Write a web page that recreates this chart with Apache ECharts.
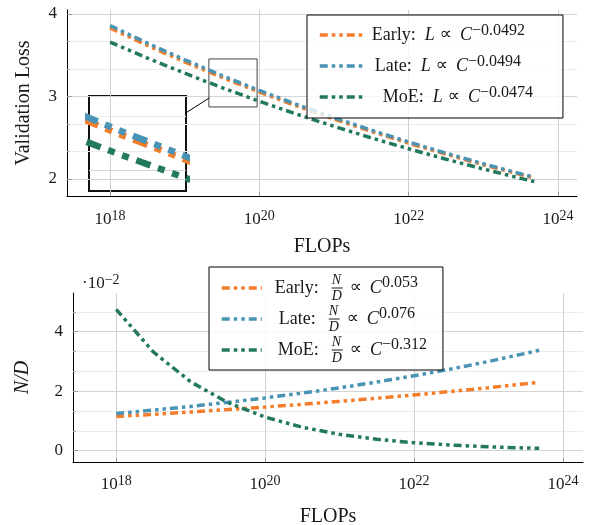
<!DOCTYPE html>
<html>
<head>
<meta charset="utf-8">
<script src="https://cdn.jsdelivr.net/npm/echarts@6/dist/echarts.min.js"></script>
<style>
html, body { margin: 0; padding: 0; background: #fff; }
#chart { width: 589px; height: 525px; }
</style>
</head>
<body>
<div id="chart"></div>
<script>
// compute budget (FLOPs), shared by both panels
var flops = [1e18, 3.16e18, 1e19, 3.16e19, 1e20, 3.16e20, 1e21, 3.16e21, 1e22, 3.16e22, 1e23, 3.16e23, 4.8e23];

// validation loss
var lossEarly = [3.830, 3.619, 3.420, 3.231, 3.053, 2.885, 2.726, 2.576, 2.434, 2.300, 2.173, 2.054, 2.012];
var lossLate  = [3.860, 3.647, 3.445, 3.254, 3.074, 2.904, 2.744, 2.592, 2.449, 2.313, 2.185, 2.064, 2.022];
var lossMoE   = [3.660, 3.466, 3.282, 3.107, 2.942, 2.786, 2.638, 2.498, 2.366, 2.240, 2.121, 2.008, 1.969];

// N/D, in units of 1e-2
var ndEarly = [1.150, 1.222, 1.299, 1.381, 1.468, 1.560, 1.658, 1.763, 1.874, 1.991, 2.117, 2.250, 2.300];
var ndLate  = [1.250, 1.364, 1.489, 1.625, 1.774, 1.936, 2.113, 2.306, 2.517, 2.747, 2.998, 3.272, 3.376];
var ndMoE   = [4.750, 3.317, 2.316, 1.617, 1.129, 0.788, 0.550, 0.384, 0.268, 0.187, 0.131, 0.091, 0.080];

// ticks
var xTicks = [1e18, 1e20, 1e22, 1e24];
var lossTicks = [2, 3, 4];
var lossMinor = [2.333, 2.667, 3.333, 3.667];
var ndTicks = [0, 2, 4];
var ndMinor = [0.667, 1.333, 2.667, 3.333, 4.667];

// zoomed region shown in the inset
var spyX = [2.11e19, 9.33e19];
var spyY = [2.873, 3.455];

var names = ['Early', 'Late', 'MoE'];
var lossExp = ['−0.0492', '−0.0494', '−0.0474'];
var ndExp = ['0.053', '0.076', '−0.312'];
var colors = ['#f47d2c', '#4993b4', '#22795d'];

var SERIF = '"Liberation Serif", "DejaVu Serif", serif';
var INK = '#1a1a1a';
var DASH = [8, 4, 3.5, 4, 3.5, 4];

function pairs(ys) {
	return flops.map(function (x, i) { return [x, ys[i]]; });
}

var chart = echarts.init(document.getElementById('chart'));

var labelRich = {
	b: { fontFamily: SERIF, fontSize: 17, lineHeight: 22, color: INK },
	s: { fontFamily: SERIF, fontSize: 14, lineHeight: 10, verticalAlign: 'top', color: INK }
};

function xAxis(grid, min, max, name, gap, margin) {
	return {
		type: 'log', gridIndex: grid, min: min, max: max,
		name: name, nameLocation: 'middle', nameGap: gap,
		nameTextStyle: { fontFamily: SERIF, fontSize: 20, color: INK },
		axisLine: { onZero: false, lineStyle: { color: '#000', width: 1 } },
		axisTick: { show: true, inside: true, length: 4, customValues: xTicks, lineStyle: { color: '#999' } },
		axisLabel: {
			customValues: xTicks, margin: margin,
			formatter: function (v) { return '{b|10}{s|' + Math.round(Math.log10(v)) + '}'; },
			rich: labelRich
		},
		splitLine: { show: true, lineStyle: { color: '#cfcfcf', width: 1 } },
		minorTick: { show: false }, minorSplitLine: { show: false }
	};
}

function yMain(grid, min, max, ticks, name, gap, italic) {
	return {
		type: 'value', gridIndex: grid, position: 'left', min: min, max: max,
		name: name, nameLocation: 'middle', nameGap: gap,
		nameTextStyle: { fontFamily: SERIF, fontSize: 20, color: INK, fontStyle: italic ? 'italic' : 'normal' },
		axisLine: { show: true, onZero: false, lineStyle: { color: '#000', width: 1 } },
		axisTick: { show: true, inside: true, length: 5, customValues: ticks, lineStyle: { color: '#999' } },
		axisLabel: { customValues: ticks, margin: 10, fontFamily: SERIF, fontSize: 17, color: INK },
		splitLine: { show: true, lineStyle: { color: '#d4d4d4', width: 1.2 } }
	};
}

function yMinor(grid, min, max, ticks) {
	return {
		type: 'value', gridIndex: grid, position: 'left', min: min, max: max,
		axisLine: { show: false },
		axisTick: { show: true, inside: true, length: 3, customValues: ticks, lineStyle: { color: '#aaa' } },
		axisLabel: { show: false, customValues: ticks },
		splitLine: { show: true, lineStyle: { color: '#ececec', width: 1 } }
	};
}

function yInset(min, max, ticks, color) {
	return {
		type: 'value', gridIndex: 2, position: 'left', min: min, max: max,
		axisLine: { show: false },
		axisTick: { show: false, customValues: ticks },
		axisLabel: { show: false, customValues: ticks },
		splitLine: { show: true, lineStyle: { color: color, width: 1 } }
	};
}

var series = [];
var lossData = [lossEarly, lossLate, lossMoE];
var ndData = [ndEarly, ndLate, ndMoE];
names.forEach(function (n, i) {
	series.push({
		name: n + ' loss', type: 'line', xAxisIndex: 0, yAxisIndex: 0,
		data: pairs(lossData[i]), symbol: 'none', z: 3,
		lineStyle: { color: colors[i], width: 3.5, type: DASH, cap: 'butt' },
		itemStyle: { color: colors[i] }
	});
});
names.forEach(function (n, i) {
	series.push({
		name: n + ' nd', type: 'line', xAxisIndex: 1, yAxisIndex: 2,
		data: pairs(ndData[i]), symbol: 'none', z: 3,
		lineStyle: { color: colors[i], width: 3.5, type: DASH, cap: 'butt' },
		itemStyle: { color: colors[i] }
	});
});
names.forEach(function (n, i) {
	series.push({
		name: n + ' inset', type: 'line', xAxisIndex: 2, yAxisIndex: 4,
		data: pairs(lossData[i]), symbol: 'none', z: 3,
		lineStyle: { color: colors[i], width: 6.5, type: [15, 8, 7, 8, 7, 8], cap: 'butt' }
	});
});
// box marking the zoomed region
series[0].markArea = {
	silent: true,
	itemStyle: { color: 'rgba(0,0,0,0)', borderColor: '#444', borderWidth: 1 },
	data: [[{ coord: [spyX[0], spyY[1]] }, { coord: [spyX[1], spyY[0]] }]]
};

var legendRich = {
	t: { fontFamily: SERIF, fontSize: 18, color: INK },
	i: { fontFamily: SERIF, fontSize: 18, fontStyle: 'italic', color: INK },
	p: { fontFamily: '"DejaVu Sans", sans-serif', fontSize: 17, color: INK },
	s: { fontFamily: SERIF, fontSize: 16, lineHeight: 14, verticalAlign: 'top', color: INK },
	s2: { fontFamily: SERIF, fontSize: 16, lineHeight: 16, verticalAlign: 'top', padding: [2, 0, 0, 0], color: INK },
	g9: { width: 9 }, g13: { width: 12 }, g7: { width: 7 }, g5: { width: 5 }, g8: { width: 8 },
	n: { fontFamily: SERIF, fontSize: 14, fontStyle: 'italic', lineHeight: 14, width: 0, align: 'left', verticalAlign: 'top', color: INK, padding: [0, 0, 0, 1] },
	d: { fontFamily: SERIF, fontSize: 14, fontStyle: 'italic', lineHeight: 14, width: 0, align: 'left', verticalAlign: 'bottom', color: INK },
	bar: { width: 11, height: 1, backgroundColor: INK, fontSize: 1, lineHeight: 1 }
};

var topShift = [3, 6, 14];
var botShift = [8, 12, 11];

var option = {
	animation: false,
	backgroundColor: '#fff',
	grid: [
		{ left: 67, top: 10, width: 510, height: 186, outerBoundsMode: 'none', containLabel: false },
		{ left: 73, top: 293, width: 510, height: 169, outerBoundsMode: 'none', containLabel: false },
		{ left: 89, top: 96, width: 97, height: 95, show: true, borderColor: '#111', borderWidth: 2,
		  backgroundColor: 'rgba(0,0,0,0)', outerBoundsMode: 'none', containLabel: false }
	],
	xAxis: [
		xAxis(0, Math.pow(10, 17.424), Math.pow(10, 24.254), 'FLOPs', 41, 13),
		xAxis(1, Math.pow(10, 17.42), Math.pow(10, 24.27), 'FLOPs', 45, 12),
		{ type: 'log', gridIndex: 2, min: spyX[0], max: spyX[1], show: false }
	],
	yAxis: [
		yMain(0, 1.794, 4.048, lossTicks, 'Validation Loss', 33, false),
		yMinor(0, 1.794, 4.048, lossMinor),
		yMain(1, -0.38, 5.3, ndTicks, 'N/D', 40, true),
		yMinor(1, -0.38, 5.3, ndMinor),
		yInset(spyY[0], spyY[1], lossTicks, '#d4d4d4'),
		yInset(spyY[0], spyY[1], lossMinor, '#ececec')
	],
	legend: [
		{
			orient: 'vertical', left: 307, top: 15, padding: [8, 30, 9, 11], itemGap: 7,
			itemWidth: 44, itemHeight: 14,
			itemStyle: { opacity: 0 },
			lineStyle: { width: 3.5 },
			backgroundColor: 'rgba(255,255,255,0.8)', borderColor: '#000', borderWidth: 1, borderRadius: 0,
			data: names.map(function (n, i) {
				return { name: n + ' loss', textStyle: { padding: [0, 0, 0, topShift[i]] } };
			}),
			textStyle: { fontFamily: SERIF, fontSize: 18, lineHeight: 24, color: INK, rich: legendRich },
			formatter: function (name) {
				var i = names.indexOf(name.split(' ')[0]);
				return '{t|' + names[i] + ':}{g9| }{i|L}{g5| }{p|∝}{g8| }{i|C}{s|' + lossExp[i] + '}';
			}
		},
		{
			orient: 'vertical', left: 209, top: 267, padding: [6, 16, 5, 11], itemGap: 1,
			itemWidth: 40, itemHeight: 14,
			itemStyle: { opacity: 0 },
			lineStyle: { width: 3.5 },
			backgroundColor: 'rgba(255,255,255,0.8)', borderColor: '#000', borderWidth: 1, borderRadius: 0,
			data: names.map(function (n, i) {
				return { name: n + ' nd', textStyle: { padding: [0, 0, 0, botShift[i]] } };
			}),
			textStyle: { fontFamily: SERIF, fontSize: 18, lineHeight: 30, color: INK, rich: legendRich },
			formatter: function (name) {
				var i = names.indexOf(name.split(' ')[0]);
				return '{t|' + names[i] + ':}{g13| }{n|N}{d|D}{bar| }{g7| }{p|∝}{g8| }{i|C}{s2|' + ndExp[i] + '}';
			}
		}
	],
	graphic: [
		{
			type: 'text', left: 82, top: 273,
			style: {
				text: '{t|·10}{s|−2}',
				rich: {
					t: { fontFamily: SERIF, fontSize: 17, lineHeight: 22, fill: INK },
					s: { fontFamily: SERIF, fontSize: 14, lineHeight: 10, verticalAlign: 'top', fill: INK }
				}
			}
		}
	],
	series: series
};

chart.setOption(option);

// connector from the inset to the zoom box, along the line between their centres
var boxA = chart.convertToPixel({ gridIndex: 0 }, [spyX[0], spyY[1]]);
var boxB = chart.convertToPixel({ gridIndex: 0 }, [spyX[1], spyY[0]]);
var g = option.grid[2];
var c1 = [g.left + g.width / 2, g.top + g.height / 2];
var c2 = [(boxA[0] + boxB[0]) / 2, (boxA[1] + boxB[1]) / 2];
var slope = (c2[1] - c1[1]) / (c2[0] - c1[0]);
var xa = g.left + g.width, xb = boxA[0];
chart.setOption({
	graphic: [{}, {
		type: 'line', silent: true, z: 10,
		shape: { x1: xa, y1: c1[1] + (xa - c1[0]) * slope, x2: xb, y2: c1[1] + (xb - c1[0]) * slope },
		style: { stroke: '#000', lineWidth: 1 }
	}]
});
</script>
</body>
</html>
